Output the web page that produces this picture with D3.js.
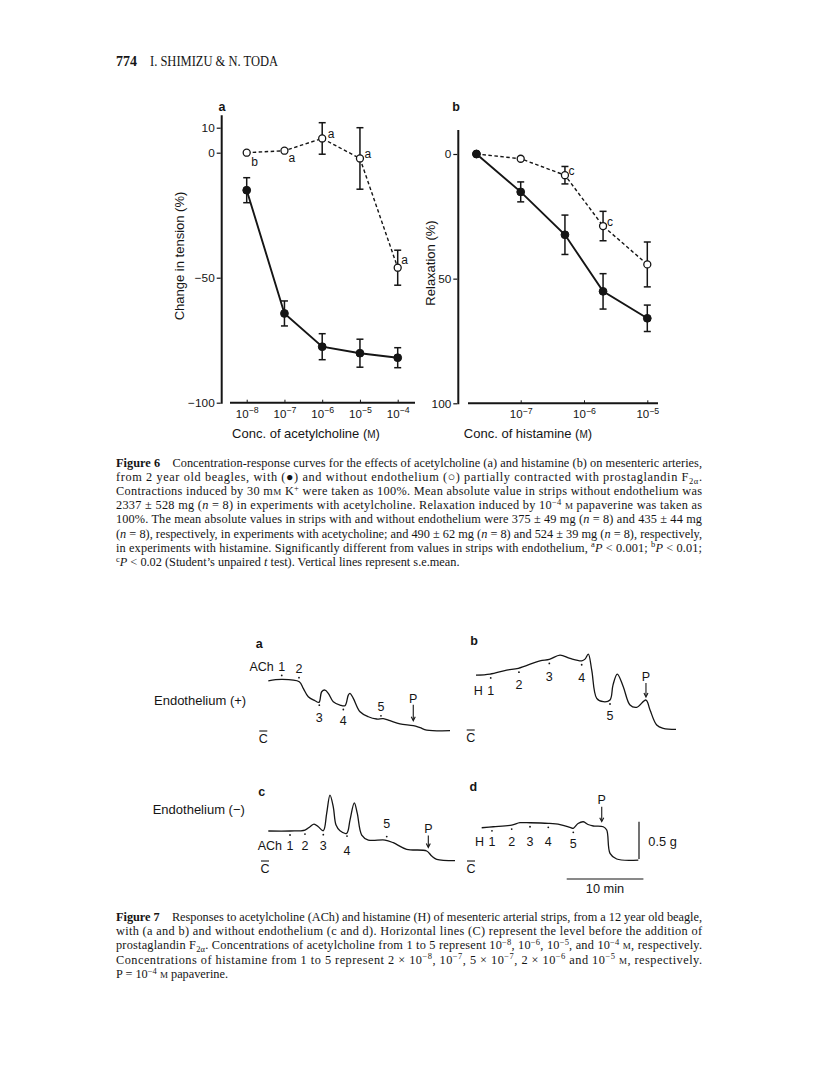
<!DOCTYPE html>
<html><head><meta charset="utf-8">
<script src="https://cdn.jsdelivr.net/npm/d3@7"></script>
<style>body{margin:0;background:#fff}svg{display:block}</style>
</head><body><svg id="c" width="816" height="1092"></svg>
<script>
// ================= DATA =================
const headerPage = "774";
const headerAuthors = "I. SHIMIZU & N. TODA";

// Figure 6a – acetylcholine
const achConc = [1e-8, 1e-7, 1e-6, 1e-5, 1e-4];
const achWithMean = [-15.0, -64.3, -77.6, -80.2, -82.0];
const achWithSem = [5.0, 5.0, 5.2, 5.6, 4.0];
const achWithoutMean = [0, 0.8, 5.7, -2.3, -46.0];
const achWithoutSem = [0, 0, 6.3, 12.3, 7.0];
const achSig = ["b", "a", "a", "a", "a"];
const achYTicks = [10, 0, -50, -100];
const achXTicks = [1e-8, 1e-7, 1e-6, 1e-5, 1e-4];
const achXTickExps = ["\u22128", "\u22127", "\u22126", "\u22125", "\u22124"];

// Figure 6b – histamine
const histConc = [2e-8, 1e-7, 5e-7, 2e-6, 1e-5];
const histWithMean = [0, 15.2, 32.4, 55.1, 65.9];
const histWithSem = [0, 4.0, 7.9, 7.1, 5.3];
const histWithoutMean = [0, 1.9, 8.5, 28.9, 44.3];
const histWithoutSem = [0, 0, 3.5, 5.9, 9.0];
const histSig = ["", "", "c", "c", ""];
const histYTicks = [0, 50, 100];
const histXTicks = [1e-7, 1e-6, 1e-5];
const histXTickExps = ["\u22127", "\u22126", "\u22125"];

// Figure 7 traces: [time (min), tension above C level (g)]
const traceA = [[0.04,0.673],[1.79,0.692],[4.08,0.66],[4.6,0.572],[5.25,0.459],[6.13,0.406],[6.65,0.384],[7.0,0.526],[7.43,0.549],[7.86,0.505],[8.51,0.392],[9.39,0.348],[10.04,0.339],[10.47,0.482],[10.69,0.505],[11.12,0.438],[12.0,0.258],[13.08,0.191],[14.17,0.161],[15.03,0.165],[15.9,0.138],[17.2,0.094],[18.94,0.071],[19.82,0.044],[20.69,0.013],[23.73,0.004]];
const traceB = [[0,0.736],[1.83,0.75],[4.0,0.803],[5.52,0.826],[8.34,0.928],[9.56,0.946],[10.95,1.004],[12.26,0.96],[13.78,0.928],[14.21,0.95],[14.64,1.017],[15.09,0.803],[15.74,0.424],[16.6,0.379],[17.47,0.402],[17.86,0.602],[18.42,0.75],[19.2,0.58],[20.08,0.335],[20.95,0.304],[22.16,0.402],[22.69,0.268],[23.56,0.067],[24.42,0.023],[26.08,0.009]];
const traceC = [[0.04,0.402],[2.87,0.402],[4.82,0.415],[5.48,0.459],[6.0,0.495],[6.56,0.459],[7.21,0.406],[7.65,0.639],[8.08,0.884],[8.51,0.727],[8.87,0.482],[9.39,0.406],[10.26,0.371],[10.69,0.549],[11.25,0.78],[11.64,0.639],[12.22,0.348],[13.08,0.281],[15.25,0.281],[16.33,0.245],[18.08,0.157],[20.69,0.134],[21.34,0.067],[22.0,0.023],[24.38,0.004]];
const traceD = [[0,0.446],[1.51,0.459],[3.91,0.482],[4.99,0.513],[6.3,0.513],[8.68,0.505],[10.21,0.489],[11.51,0.451],[11.94,0.438],[12.56,0.502],[13.25,0.526],[13.86,0.489],[14.55,0.469],[15.85,0.459],[16.3,0.415],[16.73,0.103],[17.6,0.027],[20.42,0.013]];
const doseLabels = ["1", "2", "3", "4", "5"];
const doseTimesA = [1.79, 4.04, 6.69, 9.82, 14.73];
const doseTimesB = [1.92, 5.6, 9.56, 13.78, 17.47];
const doseTimesC = [2.87, 4.82, 7.21, 10.3, 15.48];
const doseTimesD = [1.34, 3.91, 6.3, 8.68, 11.94];
const papTimes = {a: 18.94, b: 22.16, c: 20.9, d: 15.65};
const scaleBarTension = 0.5;  // g
const scaleBarTime = 10;      // min

// Captions
const fig6Caption = [
  "**Figure 6**\u2003Concentration-response curves for the effects of acetylcholine (a) and histamine (b) on mesenteric arteries,",
  "from 2 year old beagles, with (\u25CF) and without endothelium (\u25CB) partially contracted with prostaglandin F_{2\u03B1}.",
  "Contractions induced by 30 m~M~ K^{+} were taken as 100%. Mean absolute value in strips without endothelium was",
  "2337 \u00B1 528 mg (*n* = 8) in experiments with acetylcholine. Relaxation induced by 10^{\u22124} ~M~ papaverine was taken as",
  "100%. The mean absolute values in strips with and without endothelium were 375 \u00B1 49 mg (*n* = 8) and 435 \u00B1 44 mg",
  "(*n* = 8), respectively, in experiments with acetycholine; and 490 \u00B1 62 mg (*n* = 8) and 524 \u00B1 39 mg (*n* = 8), respectively,",
  "in experiments with histamine. Significantly different from values in strips with endothelium, ^{a}*P* < 0.001; ^{b}*P* < 0.01;",
  "^{c}*P* < 0.02 (Student\u2019s unpaired *t* test). Vertical lines represent s.e.mean."
];
const fig7Caption = [
  "**Figure 7**\u2003Responses to acetylcholine (ACh) and histamine (H) of mesenteric arterial strips, from a 12 year old beagle,",
  "with (a and b) and without endothelium (c and d). Horizontal lines (C) represent the level before the addition of",
  "prostaglandin F_{2\u03B1}. Concentrations of acetylcholine from 1 to 5 represent 10^{\u22128}, 10^{\u22126}, 10^{\u22125}, and 10^{\u22124} ~M~, respectively.",
  "Concentrations of histamine from 1 to 5 represent 2 \u00D7 10^{\u22128}, 10^{\u22127}, 5 \u00D7 10^{\u22127}, 2 \u00D7 10^{\u22126} and 10^{\u22125} ~M~, respectively.",
  "P = 10^{\u22124} ~M~ papaverine."
];

// ================= DRAWING =================
const svg = d3.select('#c');
svg.append('rect').attr('width', 816).attr('height', 1092).attr('fill', '#fff');
const SANS = "'Liberation Sans', Arial, Helvetica, sans-serif";
const SERIF = "'Liberation Serif', 'Times New Roman', serif";
const INK = '#151515';

function richText(sel, str, o) {
  const parts = str.split(/(\*\*[^*]+\*\*|\*[^*]+\*|\^\{[^}]+\}|_\{[^}]+\}|~[^~]+~)/).filter(s => s.length);
  let shift = 0;
  parts.forEach(p => {
    let txt = p, target = 0, size = null, weight = null, italic = false;
    if (p.startsWith('**')) { txt = p.slice(2, -2); weight = 'bold'; }
    else if (p.startsWith('^{')) { txt = p.slice(2, -1); target = -o.supShift; size = o.supSize; }
    else if (p.startsWith('_{')) { txt = p.slice(2, -1); target = o.subShift; size = o.supSize; }
    else if (p.length > 2 && p.startsWith('*') && p.endsWith('*')) { txt = p.slice(1, -1); italic = true; }
    else if (p.length > 2 && p.startsWith('~') && p.endsWith('~')) { txt = p.slice(1, -1); size = o.scSize; }
    const ts = sel.append('tspan').text(txt);
    if (target !== shift) { ts.attr('dy', target - shift); shift = target; }
    if (size) ts.attr('font-size', size);
    if (weight) ts.attr('font-weight', weight);
    if (italic) ts.attr('font-style', 'italic');
  });
}

// header
svg.append('text').attr('x', 116).attr('y', 65.5).attr('font-family', SERIF).attr('font-weight', 'bold')
  .attr('font-size', 14).attr('fill', INK).text(headerPage);
svg.append('text').attr('x', 150).attr('y', 65.5).attr('font-family', SERIF)
  .attr('font-size', 14).attr('fill', INK).attr('textLength', 128).attr('lengthAdjust', 'spacingAndGlyphs').text(headerAuthors);

// ---------- Figure 6 panels ----------
function drawCurvePanel(o) {
  const g = svg.append('g');
  const x = o.x, y = o.y;
  g.append('line').attr('x1', o.axisX).attr('x2', o.axisX).attr('y1', y(o.yTop)).attr('y2', y(o.yBottom) + 1)
    .attr('stroke', INK).attr('stroke-width', 2);
  const ya = d3.axisLeft(y).tickValues(o.yTicks).tickSize(4).tickPadding(2)
    .tickFormat(d => d < 0 ? '\u2212' + (-d) : String(d));
  const yg = g.append('g').attr('transform', `translate(${o.axisX - 1},0)`).call(ya);
  yg.select('.domain').remove();
  yg.selectAll('.tick line').attr('stroke', INK).attr('stroke-width', 1.2);
  yg.selectAll('.tick text').attr('font-family', SANS).attr('font-size', 11.8).attr('fill', INK);

  const xAxisY = y(o.yBottom);
  g.append('line').attr('x1', o.xAxisStart).attr('x2', o.xAxisEnd).attr('y1', xAxisY).attr('y2', xAxisY)
    .attr('stroke', INK).attr('stroke-width', 2);
  const xa = d3.axisBottom(x).tickValues(o.xTicks).tickSize(-3).tickPadding(7).tickFormat(() => '');
  const xg = g.append('g').attr('transform', `translate(0,${xAxisY})`).call(xa);
  xg.select('.domain').remove();
  xg.selectAll('.tick line').attr('stroke', INK).attr('stroke-width', 1);
  xg.selectAll('.tick text').attr('font-family', SANS).attr('font-size', 11.5).attr('fill', INK)
    .each(function (d, i) {
      const t = d3.select(this);
      t.append('tspan').text('10');
      t.append('tspan').attr('dy', -4.5).attr('font-size', 8.8).text(o.xTickExps[i]);
    });

  // panel letter
  g.append('text').attr('x', o.letterX).attr('y', o.letterY).attr('font-family', SANS).attr('font-weight', 'bold')
    .attr('font-size', 12.5).attr('text-anchor', 'middle').attr('fill', INK).text(o.letter);
  // y title
  g.append('text').attr('transform', `translate(${o.yTitleX},${o.yTitleY}) rotate(-90)`)
    .attr('font-family', SANS).attr('font-size', 13).attr('text-anchor', 'middle').attr('fill', INK).text(o.yTitle);
  // x title
  const xt = g.append('text').attr('x', o.xTitleX).attr('y', 437.5).attr('font-family', SANS).attr('font-size', 13)
    .attr('text-anchor', 'middle').attr('fill', INK);
  xt.append('tspan').text(o.xTitle + ' (');
  xt.append('tspan').attr('font-size', 10).text('M');
  xt.append('tspan').text(')');

  function series(mean, sem, filled, sig, sigOff) {
    const eb = g.append('g').attr('stroke', INK).attr('stroke-width', 1.5);
    o.conc.forEach((c, i) => {
      if (!sem[i]) return;
      const cx = x(c), y1 = y(mean[i] - sem[i]), y2 = y(mean[i] + sem[i]);
      eb.append('line').attr('x1', cx).attr('x2', cx).attr('y1', y1).attr('y2', y2);
      eb.append('line').attr('x1', cx - 3.5).attr('x2', cx + 3.5).attr('y1', y1).attr('y2', y1);
      eb.append('line').attr('x1', cx - 3.5).attr('x2', cx + 3.5).attr('y1', y2).attr('y2', y2);
    });
    const line = d3.line().x((d, i) => x(o.conc[i])).y(d => y(d));
    g.append('path').attr('d', line(mean)).attr('fill', 'none').attr('stroke', INK)
      .attr('stroke-width', filled ? 1.9 : 1.4).attr('stroke-dasharray', filled ? null : '3.5,2.5');
    g.selectAll(null).data(mean).enter().append('circle')
      .attr('cx', (d, i) => x(o.conc[i])).attr('cy', d => y(d)).attr('r', filled ? 3.9 : 3.5)
      .attr('fill', filled ? INK : '#fff').attr('stroke', INK).attr('stroke-width', filled ? 1 : 1.3);
    if (sig) {
      sig.forEach((s, i) => {
        if (!s) return;
        g.append('text').attr('x', x(o.conc[i]) + sigOff[i][0]).attr('y', y(mean[i]) + sigOff[i][1] + 4.2)
          .attr('font-family', SANS).attr('font-size', 12).attr('fill', INK).attr('text-anchor', 'middle').text(s);
      });
    }
  }
  series(o.withoutMean, o.withoutSem, false, o.sig, o.sigOff);
  series(o.withMean, o.withSem, true, null, null);
}

drawCurvePanel({
  conc: achConc,
  x: d3.scaleLog().domain([1e-8, 1e-4]).range([246.7, 397.7]),
  y: d3.scaleLinear().domain([-100, 10]).range([402.7, 127.7]),
  axisX: 221.7, yTop: 15, yBottom: -100, yTicks: achYTicks,
  xAxisStart: 230, xAxisEnd: 415, xTicks: achXTicks, xTickExps: achXTickExps,
  letter: 'a', letterX: 222, letterY: 111,
  yTitle: 'Change in tension (%)', yTitleX: 184, yTitleY: 256,
  xTitle: 'Conc. of acetylcholine', xTitleX: 306,
  withMean: achWithMean, withSem: achWithSem, withoutMean: achWithoutMean, withoutSem: achWithoutSem,
  sig: achSig, sigOff: [[8, 9], [7.5, 7.5], [9, -5], [8, -5], [7, -7.5]]
});
drawCurvePanel({
  conc: histConc,
  x: d3.scaleLog().domain([1e-7, 1e-5]).range([520.7, 647.3]),
  y: d3.scaleLinear().domain([0, 100]).range([154, 403.3]),
  axisX: 458.3, yTop: -9.6, yBottom: 100, yTicks: histYTicks,
  xAxisStart: 468, xAxisEnd: 658, xTicks: histXTicks, xTickExps: histXTickExps,
  letter: 'b', letterX: 456, letterY: 111,
  yTitle: 'Relaxation (%)', yTitleX: 435, yTitleY: 263,
  xTitle: 'Conc. of histamine', xTitleX: 528,
  withMean: histWithMean, withSem: histWithSem, withoutMean: histWithoutMean, withoutSem: histWithoutSem,
  sig: histSig, sigOff: [[0, 0], [0, 0], [6.5, -4], [7, -4], [0, 0]]
});

// ---------- Captions ----------
function drawCaption(lines, x0, y0, lh, width) {
  lines.forEach((ln, i) => {
    const t = svg.append('text').attr('x', x0).attr('y', y0 + i * lh).attr('font-family', SERIF)
      .attr('font-size', 12.3).attr('fill', INK);
    richText(t, ln, {supShift: 4.2, subShift: 2.6, supSize: 8.5, scSize: 9});
    if (i < lines.length - 1) t.attr('textLength', width).attr('lengthAdjust', 'spacing');
  });
}
drawCaption(fig6Caption, 116, 466.8, 14.14, 586);
drawCaption(fig7Caption, 116, 920.8, 14.25, 586);

// ---------- Figure 7 traces ----------
const tx = d3.scaleLinear().domain([0, 10]).range([0, 76.7]);     // min -> px
const ty = d3.scaleLinear().domain([0, 0.5]).range([0, -37.3]);   // g -> px
const traceLine = d3.line().x(d => tx(d[0])).y(d => ty(d[1])).curve(d3.curveCatmullRom.alpha(0.5));
function valueAt(tr, t) {
  for (let i = 1; i < tr.length; i++) {
    if (t <= tr[i][0]) {
      const a = tr[i - 1], b = tr[i], f = (t - a[0]) / (b[0] - a[0]);
      return a[1] + f * (b[1] - a[1]);
    }
  }
  return tr[tr.length - 1][1];
}
const LBL = 12.5;
function drawTrace(o) {
  const g = svg.append('g').attr('transform', `translate(${o.ox},${o.oy})`);
  g.append('path').attr('d', traceLine(o.trace)).attr('fill', 'none').attr('stroke', INK).attr('stroke-width', 1.3);
  o.doses.forEach((t, i) => {
    const px = tx(t), py = ty(valueAt(o.trace, t));
    g.append('circle').attr('cx', px).attr('cy', py + o.dotDy[i]).attr('r', 0.9).attr('fill', INK);
    g.append('text').attr('x', px).attr('y', py + o.labelDy[i] + 4.5).attr('text-anchor', 'middle')
      .attr('font-family', SANS).attr('font-size', LBL).attr('fill', INK).text(doseLabels[i]);
    if (i === 0) {
      g.append('text').attr('x', px - o.prefixGap).attr('y', py + o.labelDy[i] + 4.5).attr('text-anchor', 'end')
        .attr('font-family', SANS).attr('font-size', LBL).attr('fill', INK).text(o.prefix);
    }
  });
  const ppx = tx(o.pap), ppy = ty(valueAt(o.trace, o.pap));
  g.append('text').attr('x', ppx).attr('y', ppy + o.pDy + 4.5).attr('text-anchor', 'middle')
    .attr('font-family', SANS).attr('font-size', LBL).attr('fill', INK).text('P');
  g.append('line').attr('x1', ppx).attr('x2', ppx).attr('y1', ppy + o.arrow[0]).attr('y2', ppy + o.arrow[1] - 1)
    .attr('stroke', INK).attr('stroke-width', 1.1);
  g.append('path').attr('d', `M${ppx - 2},${ppy + o.arrow[1] - 4}L${ppx},${ppy + o.arrow[1]}L${ppx + 2},${ppy + o.arrow[1] - 4}`)
    .attr('fill', 'none').attr('stroke', INK).attr('stroke-width', 1.1);
  g.append('line').attr('x1', o.cx - 4).attr('x2', o.cx + 4).attr('y1', ty(0)).attr('y2', ty(0))
    .attr('stroke', INK).attr('stroke-width', 1.1);
  g.append('text').attr('x', o.cx).attr('y', ty(0) + 12).attr('text-anchor', 'middle')
    .attr('font-family', SANS).attr('font-size', LBL).attr('fill', INK).text('C');
  svg.append('text').attr('x', o.letterX).attr('y', o.letterY).attr('text-anchor', 'middle')
    .attr('font-family', SANS).attr('font-weight', 'bold').attr('font-size', 12.5).attr('fill', INK).text(o.letter);
}

drawTrace({trace: traceA, ox: 268, oy: 731, doses: doseTimesA, pap: papTimes.a,
  labelDy: [-13, -13, 16, 15, -12], dotDy: [-4, -4, 4, 4, -3], pDy: -27, arrow: [-21, -5],
  prefix: 'ACh', prefixGap: 8, cx: -4.7, letter: 'a', letterX: 259.3, letterY: 647.5});
drawTrace({trace: traceB, ox: 476, oy: 730, doses: doseTimesB, pap: papTimes.b,
  labelDy: [17, 16, 17, 16.5, 15], dotDy: [4, 4, 4, 4, 4], pDy: -24, arrow: [-17, -3],
  prefix: 'H', prefixGap: 8, cx: -5.3, letter: 'b', letterX: 474, letterY: 645});
drawTrace({trace: traceC, ox: 268, oy: 861, doses: doseTimesC, pap: papTimes.c,
  labelDy: [14, 15, 14.5, 18.5, -17], dotDy: [4, 4, 4, 4, -4], pDy: -24, arrow: [-17, -5],
  prefix: 'ACh', prefixGap: 8, cx: -3, letter: 'c', letterX: 261.7, letterY: 795.5});
drawTrace({trace: traceD, ox: 481.7, oy: 861, doses: doseTimesD, pap: papTimes.d,
  labelDy: [15, 16.7, 19, 18.4, 15], dotDy: [4, 4, 4, 4, 4], pDy: -27.6, arrow: [-20, -5],
  prefix: 'H', prefixGap: 8, cx: -10.7, letter: 'd', letterX: 473.3, letterY: 790.5});

svg.append('text').attr('x', 154).attr('y', 704.8).attr('font-family', SANS).attr('font-size', 13).attr('fill', INK).text('Endothelium (+)');
svg.append('text').attr('x', 152.7).attr('y', 813.8).attr('font-family', SANS).attr('font-size', 13).attr('fill', INK).text('Endothelium (\u2212)');

const sb = svg.append('g');
sb.append('line').attr('x1', 639).attr('x2', 639).attr('y1', 859 + ty(0)).attr('y2', 859 + ty(scaleBarTension))
  .attr('stroke', INK).attr('stroke-width', 1.2);
sb.append('text').attr('x', 648.3).attr('y', 846.3).attr('font-family', SANS).attr('font-size', 12.8).attr('fill', INK)
  .text(scaleBarTension + ' g');
sb.append('line').attr('x1', 566.7 + tx(0)).attr('x2', 566.7 + tx(scaleBarTime)).attr('y1', 879).attr('y2', 879)
  .attr('stroke', INK).attr('stroke-width', 1.2);
sb.append('text').attr('x', 566.7 + tx(scaleBarTime / 2)).attr('y', 893).attr('text-anchor', 'middle')
  .attr('font-family', SANS).attr('font-size', 12.8).attr('fill', INK).text(scaleBarTime + ' min');
</script></body></html>
